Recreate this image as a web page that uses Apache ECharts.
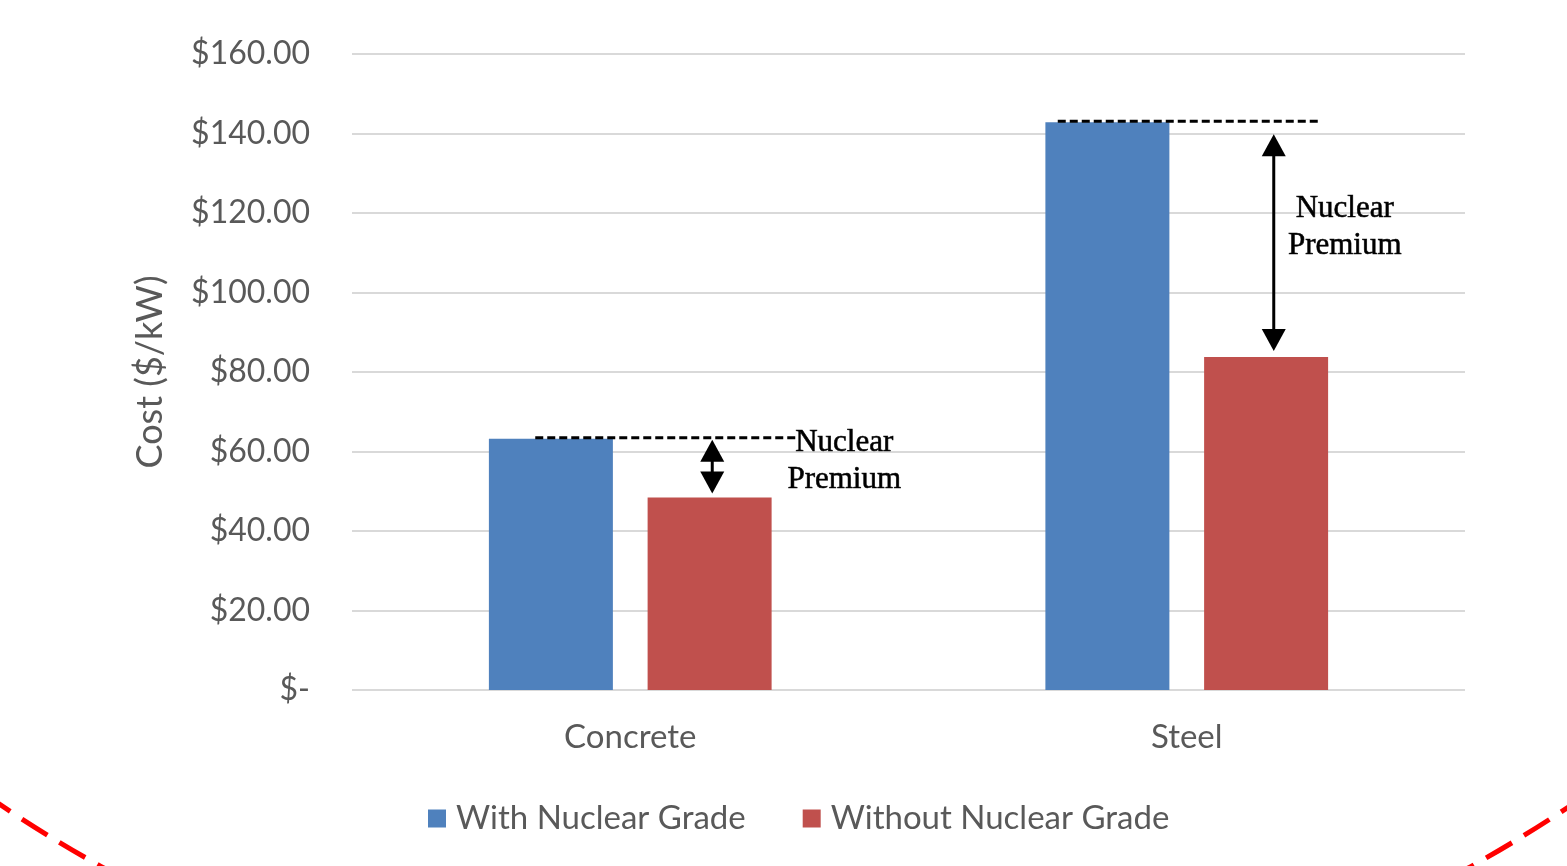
<!DOCTYPE html>
<html>
<head>
<meta charset="utf-8">
<script src="https://cdn.jsdelivr.net/npm/echarts@6/dist/echarts.min.js"></script>
<style>
  html, body { margin: 0; padding: 0; background: #ffffff; }
  #chart { width: 1567px; height: 866px; }
</style>
</head>
<body>
<div id="chart"></div>
<script>
// Cost per kW for concrete and steel, with and without nuclear-grade requirements
const categories = ['Concrete', 'Steel'];
const seriesNames = ['With Nuclear Grade', 'Without Nuclear Grade'];
const withNuclear = [63.2, 142.8];
const withoutNuclear = [48.4, 83.8];
const premiumLabel = ['Nuclear', 'Premium'];

const BLUE = '#4f81bd';
const RED = '#c0504d';
const TEXT = '#595959';
const LABEL_FONT = 'Lato, "Open Sans", sans-serif';
const SERIF = '"Liberation Serif", "DejaVu Serif", serif';

const chart = echarts.init(document.getElementById('chart'), null, { renderer: 'canvas' });

chart.setOption({
  backgroundColor: '#ffffff',
  animation: false,
  grid: { left: 352, right: 102, top: 54, bottom: 176 },
  legend: {
    data: seriesNames,
    top: 797,
    left: 423,
    icon: 'rect',
    itemWidth: 18,
    itemHeight: 18,
    itemGap: 57,
    textStyle: { color: TEXT, fontSize: 33, fontFamily: LABEL_FONT, padding: [0, 0, 0, 5] }
  },
  xAxis: {
    type: 'category',
    data: categories,
    axisLine: { show: false },
    axisTick: { show: false },
    axisLabel: { color: TEXT, fontSize: 33, fontFamily: LABEL_FONT, margin: 31 }
  },
  yAxis: {
    type: 'value',
    min: 0,
    max: 160,
    interval: 20,
    name: 'Cost ($/kW)',
    nameLocation: 'middle',
    nameGap: 184,
    nameTextStyle: { color: TEXT, fontSize: 36, fontFamily: LABEL_FONT },
    axisLine: { show: false },
    axisTick: { show: false },
    splitLine: { lineStyle: { color: '#d9d9d9', width: 2 } },
    axisLabel: {
      color: TEXT,
      fontSize: 32,
      fontFamily: LABEL_FONT,
      margin: 42,
      formatter: v => v === 0 ? '$-' : '$' + v.toFixed(2)
    }
  },
  series: [
    {
      name: seriesNames[0],
      type: 'bar',
      data: withNuclear,
      barWidth: 124,
      barGap: '28%',
      itemStyle: { color: BLUE }
    },
    {
      name: seriesNames[1],
      type: 'bar',
      data: withoutNuclear,
      barWidth: 124,
      itemStyle: { color: RED }
    }
  ]
});

// Annotation layout per category: dashed reference line extent, arrow x, label placement
const annotLayout = [
  { lineFrom: -95, lineTo: 165, arrowX: 82, arrowTopGap: 2, arrowBottomGap: 4, textX: 214, textY: -6 },
  { lineFrom: -129, lineTo: 133, arrowX: 87, arrowTopGap: 13, arrowBottomGap: 6, textX: 158, textY: -12 }
];

function arrowHead(x, y, dir) {
  // dir = -1 points up, +1 points down; tip at (x, y)
  const w = 12, h = 22;
  return {
    type: 'polygon',
    shape: { points: [[x, y], [x - w, y - dir * h], [x + w, y - dir * h]] },
    style: { fill: '#000000' },
    z: 20
  };
}

const elements = [];
categories.forEach((c, i) => {
  const L = annotLayout[i];
  const hi = chart.convertToPixel({ gridIndex: 0 }, [i, withNuclear[i]]);
  const lo = chart.convertToPixel({ gridIndex: 0 }, [i, withoutNuclear[i]]);
  const cx = hi[0];
  const yHi = hi[1] - 1;
  const yLo = lo[1];
  elements.push({
    type: 'line',
    shape: { x1: cx + L.lineFrom, y1: yHi, x2: cx + L.lineTo, y2: yHi },
    style: { stroke: '#000000', lineWidth: 3, lineDash: [8, 4] },
    z: 20
  });
  const ax = cx + L.arrowX;
  const top = yHi + L.arrowTopGap;
  const bottom = yLo - L.arrowBottomGap;
  elements.push({
    type: 'line',
    shape: { x1: ax, y1: top + 10, x2: ax, y2: bottom - 10 },
    style: { stroke: '#000000', lineWidth: 3 },
    z: 20
  });
  elements.push(arrowHead(ax, top, -1));
  elements.push(arrowHead(ax, bottom, 1));
  const midY = (yHi + yLo) / 2 + L.textY;
  elements.push({
    type: 'text',
    x: cx + L.textX,
    y: midY,
    style: {
      text: premiumLabel.join('\n'),
      fill: '#000000',
      stroke: '#1a1a1a',
      lineWidth: 0.6,
      font: '31px ' + SERIF,
      lineHeight: 37,
      align: 'center',
      verticalAlign: 'middle'
    },
    z: 21
  });
});

// Red dashed arc framing the bottom corners
elements.push({
  type: 'circle',
  shape: { cx: 786, cy: -366, r: 1410 },
  style: { fill: 'none', stroke: '#ff0000', lineWidth: 5, lineDash: [30, 14] },
  silent: true,
  z: 30
});

chart.setOption({ graphic: { elements } });
</script>
</body>
</html>
